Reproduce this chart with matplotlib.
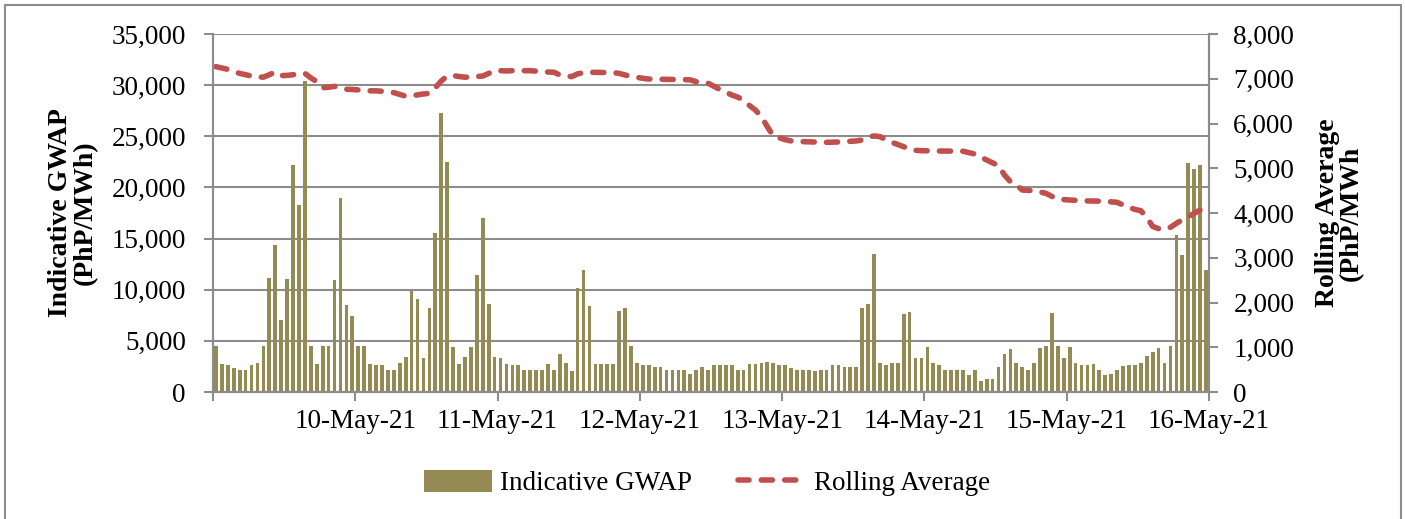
import matplotlib.pyplot as plt
from matplotlib.patches import Rectangle

# hourly indicative GWAP, 9-May-21 01:00 to 16-May-21 00:00 (PhP/MWh)
gwap = [
    4450, 2780, 2610, 2350, 2190, 2190, 2610, 2810, 4450, 11110, 14380, 7030,
    11080, 22160, 18300, 30430, 4450, 2780, 4450, 4450, 10920, 18920, 8460, 7450,
    4450, 4450, 2780, 2680, 2680, 2160, 2160, 2810, 3430, 9900, 9050, 3330,
    8200, 15520, 27260, 22480, 4380, 2780, 3430, 4380, 11410, 17030, 8600, 3460,
    3370, 2780, 2650, 2650, 2120, 2120, 2120, 2160, 2750, 2120, 3730, 2810,
    2060, 10200, 11900, 8430, 2780, 2780, 2780, 2780, 7910, 8170, 4450, 2880,
    2650, 2650, 2420, 2450, 2160, 2160, 2160, 2120, 1800, 2120, 2450, 2160,
    2650, 2650, 2650, 2650, 2160, 2160, 2780, 2710, 2840, 2910, 2810, 2680,
    2680, 2350, 2160, 2160, 2160, 2060, 2120, 2160, 2650, 2680, 2450, 2450,
    2450, 8170, 8560, 13460, 2810, 2680, 2810, 2810, 7610, 7810, 3370, 3300,
    4410, 2880, 2610, 2190, 2190, 2190, 2190, 1670, 2190, 1080, 1310, 1310,
    2480, 3760, 4180, 2840, 2480, 2190, 2810, 4280, 4480, 7680, 4480, 3330,
    4410, 2840, 2610, 2610, 2780, 2190, 1700, 1800, 2160, 2520, 2680, 2680,
    2810, 3560, 3950, 4350, 2880, 4480, 15330, 13400, 22390, 21800, 22190, 11900,
]

# rolling average, same hours (PhP/MWh)
rolling = [
    7270, 7240, 7210, 7160, 7120, 7090, 7060, 7040, 7035, 7090, 7150, 7070,
    7075, 7090, 7110, 7120, 7020, 6935, 6800, 6810, 6830, 6800, 6765, 6760,
    6750, 6735, 6730, 6730, 6720, 6710, 6690, 6650, 6610, 6620, 6640, 6660,
    6675, 6800, 6950, 7060, 7070, 7050, 7035, 7035, 7050, 7060, 7120, 7180,
    7180, 7175, 7180, 7180, 7180, 7180, 7170, 7160, 7150, 7145, 7085, 7065,
    7047, 7110, 7135, 7143, 7143, 7140, 7138, 7136, 7120, 7085, 7050, 7032,
    7010, 6994, 6992, 6988, 6987, 6987, 6984, 6980, 6975, 6935, 6920, 6900,
    6830, 6760, 6700, 6637, 6590, 6520, 6400, 6300, 6150, 5929, 5721, 5680,
    5640, 5610, 5600, 5594, 5590, 5587, 5582, 5579, 5582, 5587, 5594, 5600,
    5610, 5631, 5700, 5721, 5706, 5640, 5580, 5530, 5482, 5420, 5400, 5393,
    5390, 5385, 5385, 5385, 5385, 5383, 5380, 5350, 5318, 5250, 5184, 5120,
    5058, 4849, 4700, 4626, 4514, 4505, 4499, 4470, 4439, 4370, 4313, 4300,
    4290, 4283, 4276, 4270, 4268, 4265, 4261, 4250, 4238, 4180, 4127, 4080,
    4052, 3900, 3700, 3650, 3630, 3680, 3769, 3850, 3918, 3993, 4070, 4141,
]

day_labels = ["", "10-May-21", "11-May-21", "12-May-21", "13-May-21",
              "14-May-21", "15-May-21", "16-May-21"]

plt.rcParams['font.family'] = ['Liberation Serif', 'DejaVu Serif']
grid_col = "#8c8c8c"

fig = plt.figure(figsize=(14.05, 5.19), dpi=100)
ax = fig.add_axes([213 / 1405, 1 - 392 / 519, 996 / 1405, 358 / 519])
ax2 = ax.twinx()

hours = list(range(len(gwap)))
bars = ax.bar(hours, gwap, width=0.62, color="#948A54", label="Indicative GWAP", zorder=2)
line, = ax2.plot(hours, rolling, color="#C0504D", lw=4.0, linestyle=(0, (2.0, 2.2)),
                 dash_capstyle="round", label="Rolling Average")

ax.set_xlim(-0.5, len(gwap) - 0.5)
ax.set_ylim(0, 35000)
ax.set_yticks(range(0, 35001, 5000))
ax.set_yticklabels([f"{v:,}" for v in range(0, 35001, 5000)])
ax2.set_ylim(0, 8000)
ax2.set_yticks(range(0, 8001, 1000))
ax2.set_yticklabels([f"{v:,}" for v in range(0, 8001, 1000)])

ax.set_xticks([d * 24 - 0.5 for d in range(8)])
ax.set_xticklabels(day_labels)

ax.set_axisbelow(True)
ax.yaxis.grid(True, color=grid_col, lw=1.5)
for a in (ax, ax2):
    for s in a.spines.values():
        s.set_color(grid_col)
        s.set_linewidth(1.5)
    a.spines["top"].set_visible(False)
    a.tick_params(colors=grid_col, width=1.5, length=6.5, labelcolor="black", labelsize=19.5)
ax.tick_params(axis="y", pad=13)
ax.tick_params(axis="x", pad=6)
ax2.tick_params(axis="y", pad=11)

ax.set_ylabel("Indicative GWAP\n(PhP/MWh)", fontsize=20, fontweight="bold",
              linespacing=0.95, labelpad=10)
ax2.set_ylabel("Rolling Average\n(PhP/MWh", fontsize=20, fontweight="bold",
               linespacing=0.95, labelpad=15)

fig.legend([bars, line], ["Indicative GWAP", "Rolling Average"], loc="center",
           bbox_to_anchor=(707 / 1405, 1 - 483 / 519), ncol=2, frameon=False,
           fontsize=19.5, handlelength=2.5, handleheight=0.85, columnspacing=1.7,
           handletextpad=0.3)

fig.patches.append(Rectangle((5 / 1405, -0.01), 1396 / 1405, 1.01 - 4.5 / 519,
                             transform=fig.transFigure, fill=False,
                             edgecolor=grid_col, lw=1.5))

fig.savefig("out.png", dpi=100)
